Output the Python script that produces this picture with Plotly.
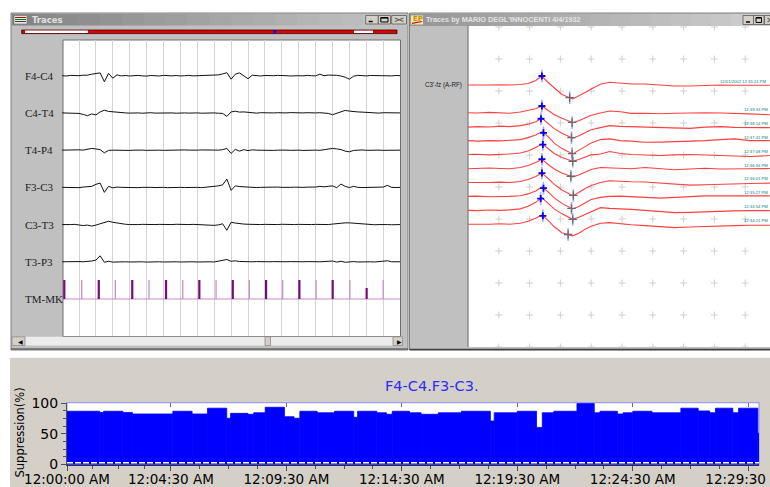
import plotly.graph_objects as go

# ======================= DATA =======================
# --- Bottom chart: suppression (%) per epoch; epoch start = seconds after 12:00:00 AM
epoch_start_s = [0, 85, 95, 145, 170, 275, 325, 365, 415, 425,
                 470, 485, 515, 565, 590, 605, 650, 695, 745, 755,
                 805, 830, 845, 890, 920, 965, 1025, 1100, 1110, 1170,
                 1220, 1235, 1265, 1325, 1370, 1385, 1430, 1445, 1470, 1520,
                 1595, 1640, 1670, 1685, 1730, 1745, 1795]
record_end_s = 1798
suppression_pct = [87, 85, 87, 85, 82.5, 87, 82.5, 92, 75.5, 83.5,
                   82, 84.5, 93.5, 78, 75.5, 87, 84.5, 87, 77, 87,
                   84.5, 82, 87, 84.5, 82, 84.5, 87, 71, 84.5, 87,
                   60.5, 84.5, 87, 99.5, 84.5, 87, 82.5, 84.5, 87, 84.5,
                   92, 87.5, 84.5, 92, 84.5, 92, 51]
time_tick_s = [0, 270, 570, 870, 1170, 1470, 1770]
time_tick_labels = ["12:00:00 AM", "12:04:30 AM", "12:09:30 AM", "12:14:30 AM",
                    "12:19:30 AM", "12:24:30 AM", "12:29:30 AM"]
time_minor_s = [67.5, 135, 202.5, 345, 420, 495, 645, 720, 795, 945, 1020, 1095,
                1245, 1320, 1395, 1545, 1620, 1695]
pct_ticks = [0, 50, 100]
pct_minor = [12.5, 25, 37.5, 62.5, 75, 87.5]
chart_title = "F4-C4.F3-C3."

# --- Left window: 20 s EEG page, sample times (s) and amplitudes (display units, + = down)
eeg_t = [0, 0.25, 0.5, 0.75, 1, 1.25, 1.5, 1.75, 2, 2.25, 2.5, 2.75, 3, 3.25, 3.5, 3.75,
         4, 4.25, 4.5, 4.75, 5, 5.25, 5.5, 5.75, 6, 6.25, 6.5, 6.75, 7, 7.25, 7.5, 7.75,
         8, 8.25, 8.5, 8.75, 9, 9.25, 9.5, 9.75, 10, 10.25, 10.5, 10.75, 11, 11.25, 11.5,
         11.75, 12, 12.25, 12.5, 12.75, 13, 13.25, 13.5, 13.75, 14, 14.25, 14.5, 14.75,
         15, 15.25, 15.5, 15.75, 16, 16.25, 16.5, 16.75, 17, 17.25, 17.5, 17.75, 18,
         18.25, 18.5, 18.75, 19, 19.25, 19.5, 19.75, 20]
channel_names = ["F4-C4", "C4-T4", "T4-P4", "F3-C3", "C3-T3", "T3-P3", "TM-MK"]
f4_c4 = [0, 0.3, -0.3, 0.2, 0, -0.5, -0.5, -1.5, -2.3, -2.8, 6, -2.3, 2.5, -0.8, 0.2, -0.2,
         0.3, 0, -0.3, 0.2, 0.4, -0.2, 0, 0.3, -0.3, 0, 0.2, -0.2, 0.3, 0, -0.3, 0.2,
         0, -0.2, 0.3, 0, -0.3, -0.8, -1.8, -3, 3.5, -1.5, -2.8, 0.5, 3, -0.5, 0,
         0.3, -0.2, 0.2, 0, -0.3, 0.2, 0, 0.3, -0.2, 0, 0.2, -0.3, 0,
         0.2, -1.5, 0, -0.6, -0.8, -0.4, 0.3, 1.5, 3.5, 0.5, -0.3, 0, 0.2,
         -0.2, 0, 0.3, -0.2, 0, 0.2, -0.2, 0]
c4_t4 = [0, 0.2, -0.2, 0.3, 0.5, 1.5, 2.8, 1.0, 2.0, -1.0, -2.7, -1.5, -1.0, -0.5, -0.3, 0,
         0.2, -0.2, 0, 0.3, 0, -0.2, 0.2, 0, -0.3, 0.2, 0, 0.3, -0.2, 0, 0.2, -0.2,
         0, 0.3, 0, -0.2, 0, 0.3, 0.5, 3.5, -1.0, -1.7, -0.8, -1.0, -0.5, 0, 0.2,
         -0.2, 0, 0.3, 0, -0.2, 0.2, 0, -0.3, 0, 0.2, 0, -0.2, 0.2,
         0, -0.2, 0.3, 0.5, 1.8, 0.5, -1.5, -2.5, -1.8, -1.2, -1.0, -0.8, -0.5,
         -0.3, 0, 0.2, -0.2, 0, 0.2, 0, 0]
t4_p4 = [0, -0.2, 0.2, 0, -0.3, 0, -0.5, -1.7, -1.2, -0.5, 2.7, 0.3, 0, 0.2, -0.2, 0,
         0.3, 0, -0.2, 0, 0.2, 0, -0.3, 0, 0.2, 0, -0.2, 0.2, 0, -0.2, 0, 0.3,
         0, -0.2, 0, 0.2, -0.3, 0, -0.5, -1.7, 3.3, -0.8, 1.0, -0.5, 0.5, -0.3, 0,
         0.2, -0.2, 0, 0.3, 0, -0.2, 0, 0.2, -0.2, 0, 0.3, 0, -0.2,
         0, 0.2, -0.3, -0.8, -1.7, -1.2, -0.6, 1.0, 1.7, 0.3, 0, -0.2, 0.2,
         0, -0.2, 0, 0.2, 0, -0.2, 0, 0]
f3_c3 = [0, 0.2, -0.2, 0, 0.3, -0.3, -0.5, -1.0, -3.0, -4.3, 5.0, -1.0, 0.5, -0.3, 0, 0.2,
         -0.2, 0, 0.3, 0, -0.2, 0, 0.2, -0.2, 0, 0.3, 0, -0.3, 0, 0.2, 0, -0.2,
         0, 0.3, -0.2, 0, -0.8, -1.5, -2.5, -8.3, 3.0, -1.5, -0.8, -0.5, 0, -0.3, 0.2,
         0, -0.2, 0.2, 0, -0.3, 0, 0.2, 0, -0.2, 0.2, 0, -0.2, 0,
         -0.3, -1.0, -0.5, -1.0, -1.5, 0.3, -3.3, -1.0, 0.2, -1.0, 0, 0.2, 0,
         -0.2, 0.2, 0, -0.3, -2.0, 0, 0.2, 0]
c3_t3 = [0, 0.2, 0, -0.2, 0.3, 1.0, 0.5, 1.5, 0.5, -0.8, -2.0, -3.3, -2.3, -1.5, -0.8, -0.3,
         0, 0.2, 0, -0.2, 0, 0.3, 0, -0.2, 0, 0.2, 0, -0.3, 0, 0.2, 0, -0.2,
         0, 0.3, 0, 0.2, 0.8, 0.3, -0.8, 5.7, -2.3, -1.5, -0.8, -0.5, -0.3, 0, 0.2,
         0, -0.2, 0, 0.2, 0, -0.3, 0, 0.2, 0, -0.2, 0, 0.3, 0,
         -0.2, 0, 0.2, 0, -0.5, -1.0, -1.5, -1.7, -1.7, -1.3, -1.0, -0.7, -0.3,
         0, 0.2, 0, -0.2, 0, 0.2, 0, 0]
t3_p3 = [0, -0.2, 0.2, 0, -0.2, 0, -0.3, -0.8, -1.7, -6.0, 0.5, -0.5, 0.3, 0, -0.2, 0,
         0.2, 0, -0.2, 0, 0.3, 0, -0.2, 0, 0.2, 0, -0.3, 0, 0.2, 0, -0.2, 0,
         0.2, 0, -0.3, 0, 0.2, -0.8, -1.2, -2.3, -0.5, -1.0, -0.3, 0, 0.2, 0, -0.2,
         0, 0.3, 0, -0.2, 0, 0.2, 0, -0.2, 0, 0.3, 0, -0.2, 0,
         0.2, 0, -0.2, -0.5, -0.8, 0.3, -0.5, 0.5, 0, -0.2, 0.2, 0, -0.2,
         0, 0.2, 0, -0.3, -1.0, 0, 0.2, 0]
marker_t = [0.13, 1.16, 2.17, 3.15, 4.15, 5.14, 6.15, 7.14, 8.12, 9.11,
            10.1, 11.08, 12.07, 13.05, 14.04, 15.03, 16.01, 17.03, 18.02, 19.0]
marker_height = [19, 19, 19, 19, 19, 19, 19, 19, 19, 19,
                 19, 19, 19, 19, 19, 19, 19, 19, 11, 19]

# --- Right window: averaged sweeps, time (ms) and amplitude (display units, + = down)
sweep_ms = [0, 30, 70, 105, 135, 170, 195, 220, 240, 260, 280, 305, 340, 360, 380,
            400, 430, 460, 495, 530, 575, 625, 670, 720, 770, 820, 865, 915, 980]
sweep_top = [0, 0.3, 0, -0.3, 0, -0.5, -1.5, -4.5, -9, -2.5, 2.5, 9.5, 14, 11, 7.5,
             4, -0.7, -2.7, -1.5, -1.0, -1.0, 0, 1.0, 1.0, 0.3, 0, 0.3, 0, 0.3]
sweep_1 = [0, 0.3, -0.3, 0, 0.5, -0.7, -2, -4, -6.7, -2, 2, 5.5, 10, 8, 5,
           2.5, 0.3, -1.7, -1, 0.7, 0.5, 1.0, 0.5, 0, 0, 0.3, 0.5, 1.2, 2]
sweep_2 = [0.5, 0, 0.3, -0.5, 0, -1, -2.5, -5, -8.4, -3, 2, 6.5, 11.6, 9, 6,
           3, 1, -1, -0.3, 0, 0.5, 1.0, 1.2, 1.7, 0.5, 0, 0.7, 0.7, 1.0]
sweep_3 = [0, 0.5, 0, 0.3, -0.3, -1, -3, -5.5, -9, -4, 2.5, 8, 13.3, 10, 6,
           2.5, -1, -1.7, 0, 0.5, 1.7, 1.5, 1.0, 1.0, 0, -1.0, -1.7, 0, 0]
sweep_4 = [0, -0.3, 0.3, 0, -0.5, -1.5, -3.5, -7, -10.7, -6, -1, 3, 6.7, 5, 2.5,
           0.3, -0.5, -3, -1, 0, 0.5, 1, 0.3, 0, 0.5, 1.0, 1.3, 2, 1.0]
sweep_5 = [0.3, 0, -0.5, 0, 0.3, -1, -3, -6, -9.3, -4, 0.5, 4.5, 8.4, 6.5, 3.5,
           1, -1, -0.5, 0, 0.3, -1, 0.5, 1.3, 0.5, -0.3, 0.5, 0.7, 0.3, 0]
sweep_6 = [0, 0.3, 0, -0.3, 0, -1, -3, -6, -9.4, -4, 2, 7.5, 13.3, 10, 6,
           3, 0, -1.7, -1, -0.7, -0.5, 0.5, 1.7, 2.7, 2.3, 1.7, 1.7, 1, 0.7]
sweep_7 = [0, -0.3, 0.3, 0.5, 0, -0.7, -2.5, -5.5, -9.4, -4.5, 1.5, 7, 12.6, 10, 6.5,
           3, 1, 0, -0.3, 0, 1, 1.7, 1.0, 0, -0.5, -0.5, -0.5, -0.3, -0.5]
sweep_8 = [0, 0.3, -0.3, 0, -0.5, -1.5, -4, -8, -12.7, -7, -1.5, 3.5, 9, 7, 4,
           1.5, -2.7, -2, -1.7, -1, 0, 1, 2.3, 2, 1.3, 1, 0.5, 0.3, 0.3]
sweep_9 = [0, 0.3, 0, -0.5, 0, -1, -3, -6, -9.3, -4, 2.5, 8.5, 11.5, 9, 5,
           2, -1, -1.7, -0.5, 0.5, 1.3, 2.3, 3.3, 2.7, 2.0, 1.7, 1.3, 1, 1]
sweep_top_label = "12/01/2002 12:33:24 PM"
sweep_times = ["12:39:33 PM", "12:38:14 PM", "12:37:41 PM", "12:37:08 PM", "12:36:34 PM",
               "12:36:01 PM", "12:35:27 PM", "12:34:54 PM", "12:34:21 PM"]
peak_ms = [240, 240, 237, 245, 243, 240, 240, 245, 236, 243]
trough_ms = [330, 338, 336, 338, 340, 334, 342, 336, 340, 325]
grid_cols_ms = [100, 200, 300, 400, 500, 600, 700, 800, 900]
grid_rows = [0, 32, 64, 96, 128, 160, 192, 224, 256, 288, 320]
montage_label = "C3'-fz (A-RF)"

# ======================= FIGURE =======================
W, H = 770, 487
PX_PER_CH = 37.22          # left page: pixels between channel baselines
TOP_BASE = 58              # right page: baseline of the reference sweep
STACK_BASE, STACK_STEP = 85.7, 13.95

shapes, annotations = [], []


def rect(x0, y0, x1, y1, fill=None, line=None, lw=1, layer="below"):
    shapes.append(dict(type="rect", xref="paper", yref="paper",
                       x0=x0 / W, x1=x1 / W, y0=1 - y1 / H, y1=1 - y0 / H,
                       fillcolor=fill or "rgba(0,0,0,0)",
                       line=dict(color=line or "rgba(0,0,0,0)", width=lw if line else 0),
                       layer=layer))


def seg(x0, y0, x1, y1, color, lw=1, layer="below", dash=None):
    d = dict(color=color, width=lw)
    if dash:
        d["dash"] = dash
    shapes.append(dict(type="line", xref="paper", yref="paper",
                       x0=x0 / W, x1=x1 / W, y0=1 - y0 / H, y1=1 - y1 / H,
                       line=d, layer=layer))


def label(x, y, s, size, color, family="DejaVu Sans", anchor="left", angle=0):
    annotations.append(dict(x=x / W, y=1 - y / H, xref="paper", yref="paper", text=s,
                            showarrow=False, xanchor=anchor, yanchor="middle",
                            textangle=angle,
                            font=dict(size=size, color=color, family=family)))


def gradient(x0, x1, y0, y1, c0, c1, n=18):
    step = (x1 - x0) / n
    for i in range(n):
        f = i / (n - 1)
        c = tuple(int(round(a + (b - a) * f)) for a, b in zip(c0, c1))
        rect(x0 + i * step, y0, x0 + (i + 1) * step + 0.6, y1, fill="rgb(%d,%d,%d)" % c)


def win_buttons(xs, y0, y1):
    for (a, b) in xs:
        rect(a, y0, b, y1, fill="#d4d0c8", line="#5a5a5a", lw=0.8)
    a, b = xs[0]
    seg(a + 3, y1 - 2.5, a + 7, y1 - 2.5, "#000000", 1.5)
    a, b = xs[1]
    rect(a + 2.5, y0 + 2, b - 2.5, y1 - 2, line="#000000", lw=1)
    seg(a + 2.5, y0 + 2.5, b - 2.5, y0 + 2.5, "#000000", 1.2)
    if len(xs) > 2:
        a, b = xs[2]
        seg(a + 3, y0 + 2.5, b - 3, y1 - 2.5, "#606060", 1.1)
        seg(a + 3, y1 - 2.5, b - 3, y0 + 2.5, "#606060", 1.1)


# ---- page / window chrome ----
rect(10, 357, 771, 488, fill="#d4d0c8")
seg(10, 357.5, 770, 357.5, "#f4f4f4", 1)
rect(11, 13, 408, 350, fill="#c0c0c0", line="#808080")
rect(409.5, 13, 772, 350, fill="#c0c0c0", line="#808080")
seg(11, 349, 408, 349, "#404040", 1.2)
seg(409.5, 349.5, 770, 349.5, "#404040", 1.5)

# left title bar
gradient(12, 407, 14, 25.5, (132, 132, 132), (196, 196, 196))
rect(14, 15.5, 27, 24, fill="#e8e8e8", line="#707070", lw=0.6)
seg(15, 17.5, 26, 17.5, "#c00000", 1)
seg(15, 19.5, 26, 19.5, "#008000", 1)
seg(15, 21.5, 26, 21.5, "#404040", 1)
label(29.5, 19.6, "<b>Traces</b>", 8.5, "#e2e2e2")
win_buttons([(365.7, 378.3), (378.3, 390.5), (391.7, 406.5)], 15.5, 24)

# progress strip
rect(21.7, 30, 397, 33.6, fill="#e00000", line="#3a0000", lw=0.8)
rect(25, 30.6, 88, 33.0, fill="#ffffff")
rect(354, 30.6, 373, 33.0, fill="#ffffff")
rect(273.6, 30.2, 276.2, 33.4, fill="#0000ff")

# left white page
rect(63, 40, 400.5, 336.5, fill="#ffffff", line="#6e6e6e", lw=1)

# scrollbar
rect(12, 336.8, 402.5, 345.5, fill="#ececec")
rect(12, 336.8, 25, 345.5, fill="#d4d0c8", line="#808080", lw=0.7)
rect(393, 336.8, 402.5, 345.5, fill="#d4d0c8", line="#808080", lw=0.7)
rect(265, 336.8, 270.5, 345.5, fill="#d4d0c8", line="#808080", lw=0.7)
label(15.5, 341.2, "◀", 6, "#000000")
label(395.3, 341.2, "▶", 6, "#000000")

# right title bar
gradient(410, 771, 14, 26, (150, 150, 150), (206, 206, 206))
rect(411, 15.5, 423, 24.5, fill="#f0e8b0")
label(410.8, 19.2, "<b>EP</b>", 7, "#c89000")
seg(412, 23.3, 422, 21.5, "#e00000", 1.2)
label(424, 19.8, "<b>Traces by MARIO DEGL'INNOCENTI 4/4/1932</b>", 7.3, "#e4e4e4",
      family="Liberation Sans")
win_buttons([(743, 753.5), (753.5, 764), (764.5, 776)], 15.5, 24.5)

# right white page
rect(468, 26, 772, 347, fill="#ffffff")
seg(468, 26, 468, 347, "#7a7a7a", 1.2)

# bottom chart plot background / frame
rect(67, 402.7, 759, 465, fill="#ffffff", line="#9c9cff", lw=1.2)

# ---- traces ----
fig = go.Figure()

# left EEG page
eeg_channels = [f4_c4, c4_t4, t4_p4, f3_c3, c3_t3, t3_p3]
for ch, vals in enumerate(eeg_channels):
    fig.add_trace(go.Scatter(x=eeg_t, y=[ch + v / PX_PER_CH for v in vals], mode="lines",
                             line=dict(color="#111111", width=1), xaxis="x", yaxis="y",
                             hoverinfo="skip"))
tm_ch = len(channel_names) - 1
fig.add_trace(go.Scatter(x=[eeg_t[0], eeg_t[-1]], y=[tm_ch, tm_ch], mode="lines",
                         line=dict(color="#c88cc8", width=1.2), xaxis="x", yaxis="y"))
for parity, color, width in [(0, "#7a0a7a", 2.2), (1, "#c890c8", 1.3)]:
    xs, ys = [], []
    for i, (t, h) in enumerate(zip(marker_t, marker_height)):
        if i % 2 == parity:
            xs += [t, t, None]
            ys += [tm_ch, tm_ch - h / PX_PER_CH, None]
    fig.add_trace(go.Scatter(x=xs, y=ys, mode="lines", line=dict(color=color, width=width),
                             xaxis="x", yaxis="y"))
for ch, name in enumerate(channel_names):
    annotations.append(dict(x=22.5 / W, xref="paper", y=ch, yref="y", text=name,
                            showarrow=False, xanchor="left", yanchor="middle",
                            font=dict(family="Liberation Serif", size=11, color="#1a1a1a")))

# right averaged sweeps: "+" grid
gx, gy = [], []
for r in grid_rows:
    for c in grid_cols_ms:
        gx.append(c)
        gy.append(r)
fig.add_trace(go.Scatter(x=gx, y=gy, mode="markers", xaxis="x2", yaxis="y2",
                         marker=dict(symbol="cross-thin", size=5,
                                     line=dict(color="#d0d0d0", width=1))))
sweeps = [sweep_top, sweep_1, sweep_2, sweep_3, sweep_4, sweep_5, sweep_6, sweep_7,
          sweep_8, sweep_9]
offsets = [TOP_BASE] + [STACK_BASE + k * STACK_STEP for k in range(len(sweeps) - 1)]
pk_x, pk_y, tr_x, tr_y = [], [], [], []


def interp(x, xs, ys):
    for i in range(len(xs) - 1):
        if xs[i] <= x <= xs[i + 1]:
            f = (x - xs[i]) / (xs[i + 1] - xs[i])
            return ys[i] + f * (ys[i + 1] - ys[i])
    return ys[-1]


for k, (vals, off) in enumerate(zip(sweeps, offsets)):
    fig.add_trace(go.Scatter(x=sweep_ms, y=[off + v for v in vals], mode="lines",
                             line=dict(color="#ff4040", width=1.1), xaxis="x2", yaxis="y2"))
    pk_x.append(peak_ms[k])
    pk_y.append(off + interp(peak_ms[k], sweep_ms, vals))
    tr_x.append(trough_ms[k])
    tr_y.append(off + interp(trough_ms[k], sweep_ms, vals))
fig.add_trace(go.Scatter(x=pk_x + tr_x, y=pk_y + tr_y, mode="markers", xaxis="x2", yaxis="y2",
                         marker=dict(symbol="line-ns", size=9,
                                     line=dict(color="#a4a4ff", width=1.6))))
fig.add_trace(go.Scatter(x=pk_x, y=pk_y, mode="markers", xaxis="x2", yaxis="y2",
                         marker=dict(symbol="cross-thin", size=5,
                                     line=dict(color="#0000ee", width=1.8))))
fig.add_trace(go.Scatter(x=tr_x, y=tr_y, mode="markers", xaxis="x2", yaxis="y2",
                         marker=dict(symbol="cross-thin", size=6,
                                     line=dict(color="#6a6a6a", width=1.3))))
annotations.append(dict(x=(719 - 468) / 0.308, xref="x2", y=TOP_BASE - 3.3, yref="y2",
                        text=sweep_top_label, showarrow=False, xanchor="left",
                        yanchor="middle", borderpad=0,
                        font=dict(size=4.2, color="#008080", family="Liberation Sans")))
for k, s in enumerate(sweep_times):
    annotations.append(dict(x=(743 - 468) / 0.308, xref="x2", y=offsets[k + 1] - 3.5,
                            yref="y2", text=s, showarrow=False, xanchor="left",
                            yanchor="middle", borderpad=0,
                            font=dict(size=4.2, color="#008080", family="Liberation Sans")))
label(423, 85, montage_label, 6.3, "#202020", family="Liberation Sans")

# bottom chart bars
ends = epoch_start_s[1:] + [record_end_s]
centers = [(a + b) / 2 for a, b in zip(epoch_start_s, ends)]
widths = [b - a for a, b in zip(epoch_start_s, ends)]
fig.add_trace(go.Bar(x=centers, y=suppression_pct, width=widths, xaxis="x3", yaxis="y3",
                     marker=dict(color="#0000ff", line=dict(color="#0000ff", width=0.8))))
fig.add_trace(go.Scatter(x=[], y=[], xaxis="x4", yaxis="y3"))
shapes.append(dict(type="line", xref="x3", yref="y3", x0=0, x1=record_end_s, y0=2.6, y1=2.6,
                   line=dict(color="#ffffff", width=1.5, dash="6px,2px"), layer="above"))
label(382.5, 386, chart_title, 14.5, "#2b2bff")
label(19.5, 433, "Suppression(%)", 11.5, "#000000", anchor="center", angle=-90)

fig.update_layout(
    width=W, height=H, margin=dict(l=0, r=0, t=0, b=0, pad=0),
    paper_bgcolor="#ffffff", plot_bgcolor="rgba(0,0,0,0)",
    showlegend=False, hovermode=False,
    shapes=shapes, annotations=annotations,
    xaxis=dict(domain=[62.1 / W, 400.1 / W], range=[0, 20], anchor="y",
               showgrid=True, gridcolor="#d4d4d4", gridwidth=1, tick0=0, dtick=1,
               showticklabels=False, ticks="", zeroline=False, showline=False),
    yaxis=dict(domain=[1 - 336 / H, 1 - 40 / H], range=[6.994, -0.959], anchor="x",
               showgrid=False, showticklabels=False, ticks="", zeroline=False,
               showline=False),
    xaxis2=dict(domain=[468 / W, 1], range=[0, 980.5], anchor="y2", showgrid=False,
                showticklabels=False, ticks="", zeroline=False, showline=False),
    yaxis2=dict(domain=[1 - 347 / H, 1 - 26 / H], range=[320, -1], anchor="x2",
                showgrid=False, showticklabels=False, ticks="", zeroline=False,
                showline=False),
    xaxis3=dict(domain=[67 / W, 759 / W], range=[0, record_end_s], anchor="y3",
                tickmode="array", tickvals=time_tick_s, ticktext=time_tick_labels,
                ticks="outside", ticklen=5, tickcolor="#505050", showline=True,
                linecolor="#303030", linewidth=1, showgrid=False, zeroline=False,
                automargin=False, ticklabeloverflow="allow", ticklabelstandoff=-3,
                tickfont=dict(family="DejaVu Sans", size=13.5, color="#000000"),
                minor=dict(tickvals=time_minor_s, ticks="outside", ticklen=3,
                           tickcolor="#505050")),
    xaxis4=dict(overlaying="x3", side="top", anchor="y3", range=[0, record_end_s],
                tickmode="array", tickvals=time_tick_s, ticks="inside", ticklen=4,
                tickcolor="#707070", showticklabels=False, showgrid=False,
                zeroline=False, showline=False),
    yaxis3=dict(domain=[1 - 465 / H, 1 - 402.7 / H], range=[-1.15, 101], anchor="x3",
                tickmode="array", tickvals=pct_ticks, ticks="outside", ticklen=5,
                tickcolor="#505050", showline=True, linecolor="#505050", linewidth=1,
                showgrid=False, zeroline=False, automargin=False,
                tickfont=dict(family="DejaVu Sans", size=14, color="#000000"),
                minor=dict(tickvals=pct_minor, ticks="outside", ticklen=3,
                           tickcolor="#505050")),
)

fig.write_html("out.html", config={"displayModeBar": False})
